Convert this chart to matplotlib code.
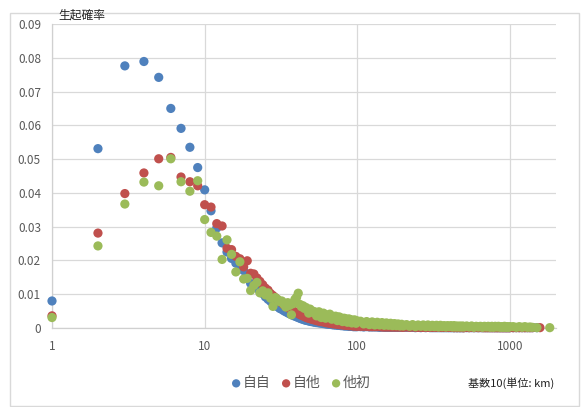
import numpy as np
import matplotlib
matplotlib.use("Agg")
import matplotlib.pyplot as plt
from matplotlib.patches import Rectangle

plt.rcParams['font.family'] = ['Noto Sans CJK JP', 'DejaVu Sans']

# ---------------- data ----------------
x_near = list(range(1, 51))
x_mid = list(range(52, 101, 2))
x_t1 = list(range(105, 201, 5))
x_t2 = list(range(210, 501, 10))
x_t3 = list(range(520, 1001, 20))
x_t4 = list(range(1050, 1401, 50))
x_end = [1500, 1570, 1820]
distance = x_near + x_mid + x_t1 + x_t2 + x_t3 + x_t4 + x_end

nan = float('nan')

blue_near = [0.0080, 0.0531, 0.0776, 0.0789, 0.0742, 0.0650, 0.0591, 0.0535, 0.0475, 0.0409,
             0.0347, 0.0296, 0.0252, 0.0225, 0.0206, 0.0192, 0.0182, 0.0170, 0.0152, 0.0132,
             0.0128, 0.0118, 0.0108, 0.0102, 0.0092, 0.0085, 0.0079, 0.0072, 0.0068, 0.0063,
             0.0058, 0.0055, 0.0051, 0.0048, 0.0045, 0.0042, 0.0040, 0.0037, 0.0035, 0.0033,
             0.0031, 0.0029, 0.0027, 0.0026, 0.0024, 0.0023, 0.0022, 0.0021, 0.0020, 0.0019]
blue_mid = [0.0017, 0.0016, 0.0015, 0.0014, 0.0013, 0.0012, 0.0011, 0.0011, 0.0010, 0.0009,
            0.0009, 0.0008, 0.0008, 0.0007, 0.0007, 0.0006, 0.0006, 0.0006, 0.0005, 0.0005,
            0.0005, 0.0004, 0.0004, 0.0004, 0.0004]
blue_t1 = [0.0004, 0.0003, 0.0004, 0.0003, 0.0003, 0.0003, 0.0003, 0.0002, 0.0003, 0.0002,
           0.0002, 0.0002, 0.0002, 0.0002, 0.0002, 0.0002, 0.0002, 0.0002, 0.0002, 0.0002]
blue_t2 = [0.0002, 0.0002, 0.0002, 0.0001, 0.0002, 0.0001, 0.0002, 0.0001, 0.0002, 0.0001,
           0.0001, 0.0001, 0.0001, 0.0001, 0.0001, 0.0001, 0.0001, 0.0001, 0.0001, 0.0001,
           0.0001, 0.0001, 0.0001, 0.0001, 0.0001, 0.0001, 0.0001, 0.0001, 0.0001, 0.0001]
blue_t3 = [0.0001, 0.0001, 0.0001, 0.0001, 0.0001, 0.0001, 0.0001, 0.0001, 0.0001, 0.0001,
           0.0001, 0.0001, 0.0001, 0.0001, 0.0001, 0.0001, 0.0001, 0.0001, 0.0001, 0.0001,
           0.0001, 0.0001, 0.0001, 0.0001, 0.0001]
blue_t4 = [0.0001, 0.0001, 0.0001, 0.0001, 0.0001, 0.0001, 0.0001, 0.0001]
blue_end = [0.0001, nan, nan]

red_near = [0.0036, 0.0281, 0.0398, 0.0459, 0.0501, 0.0505, 0.0447, 0.0433, 0.0421, 0.0365,
            0.0358, 0.0309, 0.0302, 0.0236, 0.0232, 0.0212, 0.0205, 0.0181, 0.0199, 0.0162,
            0.0160, 0.0148, 0.0138, 0.0128, 0.0118, 0.0112, 0.0102, 0.0096, 0.0090, 0.0083,
            0.0079, 0.0074, 0.0069, 0.0064, 0.0061, 0.0057, 0.0054, 0.0050, 0.0048, 0.0046,
            0.0043, 0.0040, 0.0038, 0.0036, 0.0034, 0.0032, 0.0030, 0.0029, 0.0028, 0.0026]
red_mid = [0.0024, 0.0022, 0.0020, 0.0019, 0.0018, 0.0016, 0.0015, 0.0014, 0.0013, 0.0012,
           0.0012, 0.0011, 0.0010, 0.0010, 0.0009, 0.0009, 0.0008, 0.0008, 0.0007, 0.0007,
           0.0007, 0.0006, 0.0006, 0.0006, 0.0005]
red_t1 = [0.0005, 0.0005, 0.0005, 0.0004, 0.0004, 0.0004, 0.0004, 0.0004, 0.0003, 0.0003,
          0.0003, 0.0003, 0.0003, 0.0003, 0.0003, 0.0003, 0.0003, 0.0003, 0.0003, 0.0002]
red_t2 = [0.0003, 0.0002, 0.0003, 0.0002, 0.0002, 0.0002, 0.0002, 0.0002, 0.0002, 0.0002,
          0.0002, 0.0002, 0.0002, 0.0002, 0.0002, 0.0002, 0.0002, 0.0002, 0.0002, 0.0002,
          0.0002, 0.0002, 0.0001, 0.0002, 0.0001, 0.0002, 0.0001, 0.0002, 0.0001, 0.0001]
red_t3 = [0.0002, 0.0001, 0.0002, 0.0001, 0.0002, 0.0001, 0.0002, 0.0001, 0.0001, 0.0001,
          0.0001, 0.0001, 0.0001, 0.0001, 0.0001, 0.0001, 0.0001, 0.0001, 0.0001, 0.0001,
          0.0001, 0.0001, 0.0001, 0.0001, 0.0001]
red_t4 = [0.0001, 0.0001, 0.0001, 0.0001, 0.0001, 0.0001, 0.0001, 0.0001]
red_end = [nan, 0.0001, nan]

green_near = [0.0031, 0.0243, 0.0367, 0.0432, 0.0421, 0.0501, 0.0433, 0.0405, 0.0436, 0.0321,
              0.0283, 0.0272, 0.0203, 0.0261, 0.0218, 0.0166, 0.0196, 0.0145, 0.0147, 0.0111,
              0.0126, 0.0135, 0.0104, 0.0110, 0.0098, 0.0104, 0.0088, 0.0064, 0.0090, 0.0085,
              0.0078, 0.0080, 0.0070, 0.0062, 0.0075, 0.0067, 0.0039, 0.0072, 0.0085, 0.0091,
              0.0103, 0.0070, 0.0063, 0.0066, 0.0058, 0.0061, 0.0055, 0.0044, 0.0056, 0.0047]
green_mid = [0.0049, 0.0036, 0.0048, 0.0031, 0.0044, 0.0029, 0.0038, 0.0041, 0.0026, 0.0034,
             0.0035, 0.0022, 0.0033, 0.0030, 0.0019, 0.0029, 0.0027, 0.0017, 0.0027, 0.0025,
             0.0015, 0.0023, 0.0024, 0.0014, 0.0021]
green_t1 = [0.0020, 0.0012, 0.0019, 0.0010, 0.0018, 0.0009, 0.0017, 0.0009, 0.0016, 0.0008,
            0.0015, 0.0008, 0.0014, 0.0007, 0.0013, 0.0007, 0.0012, 0.0006, 0.0011, 0.0006]
green_t2 = [0.0010, 0.0005, 0.0010, 0.0004, 0.0009, 0.0005, 0.0009, 0.0004, 0.0009, 0.0004,
            0.0008, 0.0004, 0.0008, 0.0003, 0.0008, 0.0004, 0.0007, 0.0003, 0.0007, 0.0004,
            0.0007, 0.0003, 0.0007, 0.0003, 0.0006, 0.0003, 0.0006, 0.0003, 0.0006, 0.0003]
green_t3 = [0.0006, 0.0003, 0.0006, 0.0002, 0.0005, 0.0003, 0.0005, 0.0002, 0.0005, 0.0003,
            0.0005, 0.0002, 0.0005, 0.0002, 0.0005, 0.0003, 0.0005, 0.0002, 0.0004, 0.0002,
            0.0005, 0.0002, 0.0004, 0.0002, 0.0004]
green_t4 = [0.0004, 0.0002, 0.0004, 0.0002, 0.0004, 0.0002, 0.0003, 0.0002]
green_end = [0.0001, nan, 0.0001]

series_names = ['自自', '自他', '他初']
series_values = [
    blue_near + blue_mid + blue_t1 + blue_t2 + blue_t3 + blue_t4 + blue_end,
    red_near + red_mid + red_t1 + red_t2 + red_t3 + red_t4 + red_end,
    green_near + green_mid + green_t1 + green_t2 + green_t3 + green_t4 + green_end,
]
colors = ['#4F81BD', '#C0504D', '#9BBB59']

y_ticks = [0, 0.01, 0.02, 0.03, 0.04, 0.05, 0.06, 0.07, 0.08, 0.09]
y_ticklabels = ['0', '0.01', '0.02', '0.03', '0.04', '0.05', '0.06', '0.07', '0.08', '0.09']
x_ticks = [1, 10, 100, 1000]
x_ticklabels = ['1', '10', '100', '1000']

# ---------------- figure ----------------
W, H = 583, 407
fig = plt.figure(figsize=(W / 100, H / 100), dpi=100)
ax = fig.add_axes([52 / W, 1 - 328 / H, (556 - 52) / W, (328 - 24) / H])

for name, vals, c, z in zip(series_names, series_values, colors, [3, 4, 5]):
    ax.scatter(distance, vals, s=44, color=c, edgecolors='none', label=name, zorder=z,
               clip_on=False)

ax.set_xscale('log')
ax.set_xlim(1, 2000)
ax.set_ylim(0, 0.09)
ax.set_xticks(x_ticks)
ax.set_xticklabels(x_ticklabels)
ax.xaxis.set_minor_locator(matplotlib.ticker.NullLocator())
ax.set_yticks(y_ticks)
ax.set_yticklabels(y_ticklabels)

ax.grid(True, color='#d9d9d9', linewidth=0.9, zorder=0)
ax.set_axisbelow(True)
for s in ['top', 'right']:
    ax.spines[s].set_visible(False)
for s in ['left', 'bottom']:
    ax.spines[s].set_color('#d0d0d0')
    ax.spines[s].set_linewidth(0.9)

ax.tick_params(axis='both', length=0, colors='#595959', labelsize=8.5)
ax.tick_params(axis='y', pad=8)
ax.tick_params(axis='x', pad=9)

fig.text(58 / W, 1 - 15 / H, '生起確率', ha='left', va='center', fontsize=8.5, color='#222222')
fig.text(468 / W, 1 - 383 / H, '基数10(単位: km)', ha='left', va='center', fontsize=8, color='#222222')

leg = fig.legend(loc='center', bbox_to_anchor=(300 / W, 1 - 383 / H), ncol=3, frameon=False,
                 handletextpad=0.0, columnspacing=0.6, handlelength=1.0, borderpad=0,
                 fontsize=10, scatterpoints=1, markerscale=0.9)
for t in leg.get_texts():
    t.set_color('#595959')

fig.patches.append(Rectangle((10 / W, 1 - 406 / H), (579 - 10) / W, (406 - 13) / H,
                             transform=fig.transFigure, fill=False, edgecolor='#d9d9d9',
                             linewidth=1.0))

fig.savefig('out.png', dpi=100, facecolor='white')
